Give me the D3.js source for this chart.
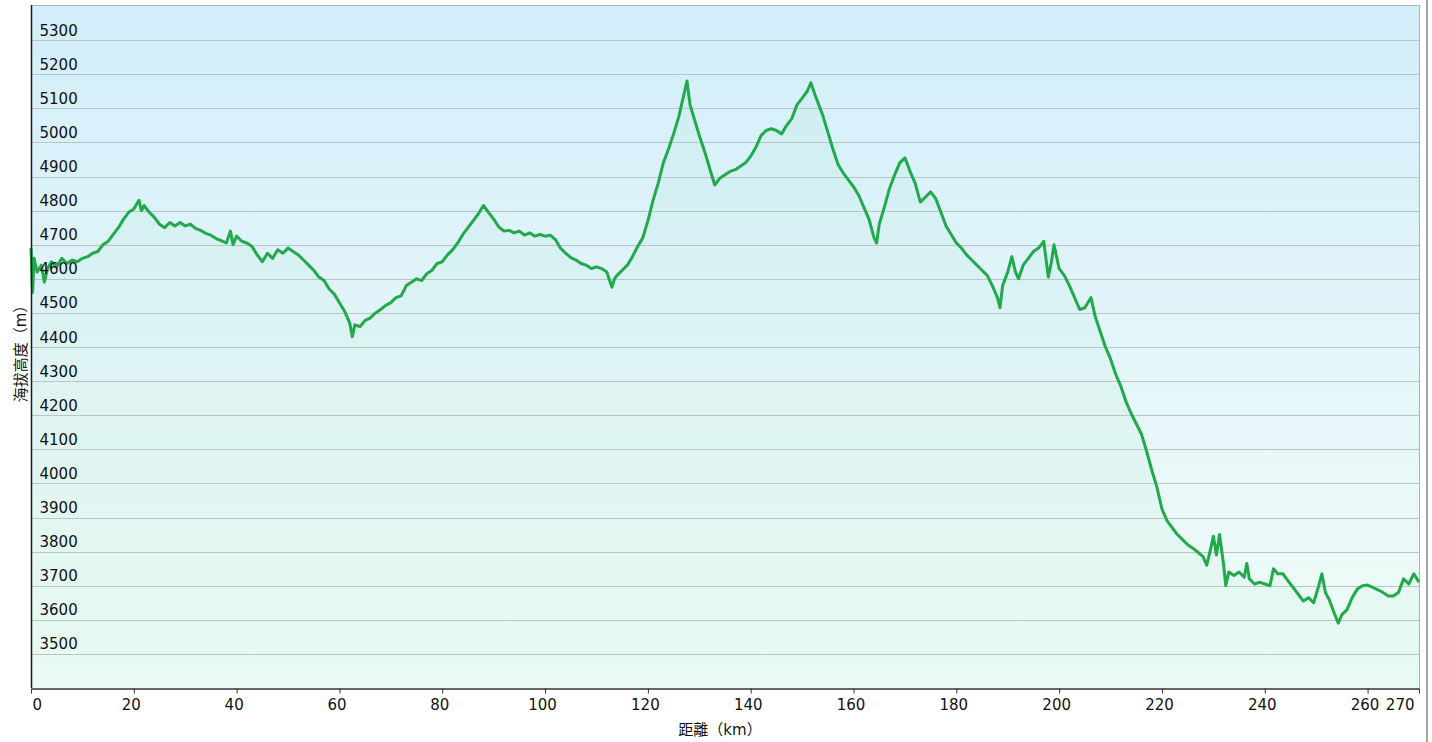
<!DOCTYPE html>
<html>
<head>
<meta charset="utf-8">
<script src="https://cdn.jsdelivr.net/npm/d3@7"></script>
<style>
  body { margin: 0; background: #fff; overflow: hidden; }
  svg text { font-family: "DejaVu Sans", "Noto Sans CJK TC", sans-serif; fill: #111; }
</style>
</head>
<body>
<svg id="chart" width="1432" height="742"></svg>
<script>
// profile: distance (km) and altitude (m)
const distKm = [
  0, 0.3, 0.6, 1.2, 2, 2.6, 3.2, 4, 5, 6, 7, 8, 9, 10, 11, 12, 13, 14, 15, 16, 17, 18, 19, 20, 21, 21.5, 22, 23, 24, 25,
  26, 27, 28, 29, 30, 31, 32, 33, 34, 35, 36, 37, 38, 38.8, 39.3, 40, 41, 42, 43, 44, 45, 46, 47, 48, 49, 50,
  51, 52, 53, 54, 55, 56, 57, 58, 59, 60, 61, 62, 62.5, 63, 64, 65, 66, 67, 68, 69, 70, 71, 72, 73, 74, 75,
  76, 77, 78, 79, 80, 81, 82, 83, 84, 85, 86, 87, 88, 89, 90, 91, 92, 93, 94, 95, 96, 97, 98, 99, 100,
  101, 102, 103, 104, 105, 106, 107, 108, 109, 110, 111, 112, 113, 113.5, 114, 115, 116, 117, 118, 119, 120,
  121, 122, 123, 124, 125, 126, 127, 127.6, 128.2, 129, 130, 131, 132, 133, 134, 135, 136, 137, 138, 139, 140,
  141, 142, 143, 144, 145, 146, 147, 148, 149, 150, 151, 151.7, 152.5, 153, 154, 155, 156, 157, 158, 159, 160,
  161, 162, 163, 164, 164.5, 165, 166, 167, 168, 169, 170, 171, 172, 173, 174, 175, 176, 177, 178, 179, 180,
  181, 182, 183, 184, 185, 186, 187, 188, 188.5, 189, 190, 190.8, 191.5, 192.1, 193, 194, 195, 196, 197, 197.9, 198.5, 199, 200,
  201, 202, 203, 204, 205, 206.2, 207, 208, 209, 210, 211, 212, 213, 214, 215, 216, 217, 218, 219, 220,
  221, 222, 223, 224, 225, 226, 227, 228, 228.7, 229.5, 230, 230.6, 231.2, 232, 232.4, 233, 234, 235, 236, 236.5, 237, 238, 239, 240,
  241, 241.7, 242.5, 243.5, 244.5, 245.5, 246.5, 247.5, 248.5, 249.5, 250.5, 251.1, 251.8, 252.5, 253.5, 254.3, 255, 256, 257, 258, 259, 260,
  261, 262, 263, 264, 265, 266, 267, 268, 269, 270
];
const elevation = [
  4690, 4560, 4660, 4620, 4640, 4590, 4630, 4650, 4635, 4660, 4645, 4655, 4650, 4660, 4665, 4675, 4680, 4700, 4710, 4730, 4750, 4775, 4795, 4805, 4830, 4800, 4815, 4795, 4780, 4760,
  4750, 4765, 4755, 4765, 4755, 4760, 4748, 4742, 4733, 4728, 4718, 4712, 4705, 4740, 4700, 4725, 4710, 4705, 4695, 4670, 4650, 4675, 4660, 4685, 4675, 4690,
  4680, 4670, 4655, 4640, 4625, 4605, 4595, 4570, 4555, 4530, 4505, 4470, 4430, 4465, 4460, 4478, 4485, 4500, 4510, 4522, 4530, 4545, 4550, 4580, 4590, 4600,
  4595, 4615, 4625, 4645, 4650, 4670, 4685, 4705, 4730, 4750, 4770, 4790, 4815, 4795, 4775, 4752, 4740, 4742, 4735, 4740, 4728, 4735, 4725, 4730, 4725,
  4728, 4715, 4690, 4675, 4662, 4655, 4645, 4640, 4630, 4635, 4630, 4620, 4575, 4600, 4610, 4625, 4640, 4665, 4695, 4720, 4770,
  4830, 4880, 4940, 4980, 5025, 5075, 5140, 5180, 5110, 5070, 5020, 4975, 4925, 4875, 4895, 4905, 4915, 4920, 4930, 4940, 4960,
  4985, 5020, 5035, 5040, 5035, 5025, 5050, 5070, 5110, 5130, 5150, 5175, 5140, 5120, 5080, 5030, 4980, 4935, 4910, 4890, 4870,
  4845, 4810, 4775, 4720, 4705, 4760, 4810, 4865, 4905, 4940, 4955, 4915, 4880, 4825, 4840, 4855, 4835, 4795, 4755, 4730, 4705,
  4690, 4670, 4655, 4640, 4625, 4610, 4580, 4545, 4515, 4580, 4620, 4665, 4620, 4600, 4640, 4660, 4680, 4690, 4710, 4605, 4650, 4700, 4630,
  4610, 4580, 4545, 4510, 4515, 4545, 4490, 4445, 4400, 4365, 4320, 4285, 4240, 4205, 4175, 4145, 4095, 4040, 3990, 3925,
  3890, 3870, 3850, 3835, 3820, 3810, 3798, 3785, 3760, 3810, 3845, 3790, 3850, 3760, 3700, 3740, 3730, 3740, 3725, 3765, 3720, 3705, 3710, 3705,
  3700, 3750, 3735, 3735, 3715, 3695, 3675, 3655, 3665, 3650, 3700, 3735, 3680, 3660, 3620, 3590, 3615, 3630, 3665, 3690, 3700, 3702,
  3695, 3688, 3680, 3670, 3670, 3680, 3720, 3705, 3735, 3710
];
const elevTicks = [3500, 3600, 3700, 3800, 3900, 4000, 4100, 4200, 4300, 4400, 4500, 4600, 4700, 4800, 4900, 5000, 5100, 5200, 5300];
const distTicks = [0, 20, 40, 60, 80, 100, 120, 140, 160, 180, 200, 220, 240, 260, 270];
const yTitle = "海拔高度（m）";
const xTitle = "距離（km）";

const profile = distKm.map((d, i) => ({ km: d, alt: elevation[i] }));

const svg = d3.select("#chart");
const plotLeft = 31, plotRight = 1419, plotTop = 6, plotBottom = 688;

const x = d3.scaleLinear().domain([0, 270]).range([plotLeft, plotRight]);
const y = d3.scaleLinear().domain([3400, 5400]).range([plotBottom, plotTop]);

// background gradient
const defs = svg.append("defs");
const grad = defs.append("linearGradient").attr("id", "bg").attr("x1", 0).attr("y1", 0).attr("x2", 0).attr("y2", 1);
grad.append("stop").attr("offset", "0%").attr("stop-color", "#d2eefa");
grad.append("stop").attr("offset", "55%").attr("stop-color", "#e5f6f9");
grad.append("stop").attr("offset", "100%").attr("stop-color", "#f0fcf7");

svg.append("rect")
  .attr("x", plotLeft).attr("y", plotTop - 1)
  .attr("width", plotRight - plotLeft).attr("height", plotBottom - plotTop + 1)
  .attr("fill", "url(#bg)");

// area under the profile
const area = d3.area().x(d => x(d.km)).y0(y(3400)).y1(d => y(d.alt));
svg.append("path").datum(profile)
  .attr("d", area)
  .attr("fill", "rgba(40,200,110,0.04)");

// horizontal grid
svg.append("g").selectAll("line").data(elevTicks).enter().append("line")
  .attr("x1", plotLeft).attr("x2", plotRight)
  .attr("y1", d => Math.round(y(d)) + 0.5).attr("y2", d => Math.round(y(d)) + 0.5)
  .attr("stroke", "#b8c4c6").attr("stroke-width", 1);

// frame top / right
svg.append("line").attr("x1", plotLeft).attr("x2", plotRight + 0.5).attr("y1", 5.5).attr("y2", 5.5)
  .attr("stroke", "#b2b2b2");
svg.append("line").attr("x1", plotRight + 0.5).attr("x2", plotRight + 0.5).attr("y1", 5).attr("y2", plotBottom)
  .attr("stroke", "#b2b2b2");

// profile line
const line = d3.line().x(d => x(d.km)).y(d => y(d.alt));
svg.append("path").datum(profile)
  .attr("d", line)
  .attr("fill", "none")
  .attr("stroke", "#22a94b")
  .attr("stroke-width", 3)
  .attr("stroke-linejoin", "round");

// y labels sit inside the plot, just above each grid line
const yAxis = svg.append("g").attr("transform", `translate(${plotLeft + 0.5},0)`)
  .call(d3.axisRight(y).tickValues(elevTicks).tickSize(0).tickSizeOuter(0).tickPadding(8).tickFormat(d3.format("d")));
yAxis.select(".domain").attr("stroke", "#1a1a1a").attr("stroke-width", 1.5)
  .attr("d", `M0,${plotTop - 1}V${plotBottom}`);
yAxis.selectAll("text").attr("dy", -5).attr("x", 8)
  .style("font-size", "15px").attr("fill", "#111");

// x axis
const xAxis = svg.append("g").attr("transform", `translate(0,${plotBottom + 0.5})`)
  .call(d3.axisBottom(x).tickValues(distTicks).tickSize(5).tickSizeOuter(0).tickFormat(d3.format("d")));
xAxis.select(".domain").attr("stroke", "#333").attr("stroke-width", 1.5);
xAxis.selectAll(".tick line").attr("stroke", "#333");
xAxis.selectAll("text")
  .attr("y", 21.5).attr("dy", 0)
  .style("font-size", "15px").attr("fill", "#111")
  .attr("text-anchor", d => d === 0 ? "start" : d === 270 ? "end" : "middle")
  .attr("dx", d => d === 0 ? 1 : d === 270 ? -5 : -3);

// axis titles
svg.append("text")
  .attr("transform", `translate(26,350) rotate(-90)`)
  .attr("text-anchor", "middle")
  .style("font-size", "15px")
  .text(yTitle);
svg.append("text")
  .attr("x", 720).attr("y", 735)
  .attr("text-anchor", "middle")
  .style("font-size", "15px")
  .text(xTitle);

// window edge on the right
svg.append("line").attr("x1", 1427).attr("x2", 1427).attr("y1", 0).attr("y2", 742)
  .attr("stroke", "#a6a6a6").attr("stroke-width", 2);
</script>
</body>
</html>
